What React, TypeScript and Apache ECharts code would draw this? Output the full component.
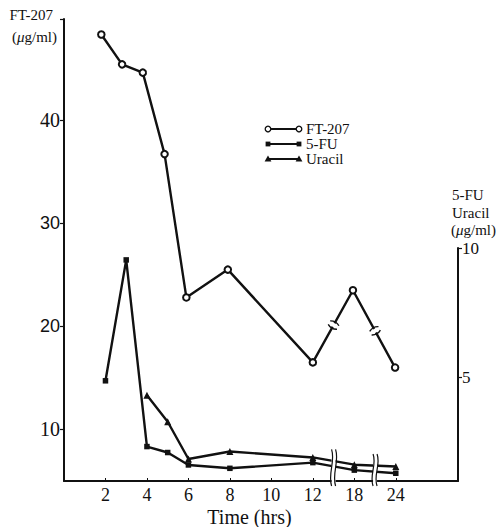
import React, { useEffect, useRef } from "react";
import * as echarts from "echarts";

// ---- data ----
const seriesNames = ["FT-207", "5-FU", "Uracil"];
const timeTicks = [2, 4, 6, 8, 10, 12, 18, 24];
const axisBreaks = [
  [12, 18],
  [18, 24],
];
const ftTimes = [1.8, 2.8, 3.8, 4.85, 5.9, 7.9, 12, 17.8, 23.9];
const ftValues = [48.3, 45.4, 44.6, 36.7, 22.8, 25.5, 16.5, 23.5, 16.0];
const fuTimes = [2, 3, 4, 5, 6, 8, 12, 18, 24];
const fuValues = [4.87, 9.54, 2.33, 2.1, 1.62, 1.49, 1.71, 1.42, 1.3];
const uracilTimes = [4, 5, 6, 8, 12, 18, 24];
const uracilValues = [4.31, 3.29, 1.85, 2.14, 1.91, 1.63, 1.56];
const leftTicks = [10, 20, 30, 40];
const leftRange = [5, 49.8];
const rightTicks = [5, 10];
const rightRange = [1, 10];
const xRange = [0, 9.5];

// broken time axis: 2 h per step up to 12 h, then 6 h per step
function toAxis(t: number) {
  return t <= 12 ? t / 2 : 6 + (t - 12) / 6;
}

const SERIF_NAME = "Liberation Serif";
const SANS_NAME = "Liberation Sans";
const SERIF = "'Liberation Serif', serif";
const INK = "#111";

function pts(times: number[], vals: number[]) {
  return times.map((t, i) => [toAxis(t), vals[i]]);
}
function interp(p: number[][], x: number) {
  for (let i = 0; i < p.length - 1; i++) {
    if (p[i][0] <= x && p[i + 1][0] >= x) {
      const f = (x - p[i][0]) / (p[i + 1][0] - p[i][0]);
      return p[i][1] + f * (p[i + 1][1] - p[i][1]);
    }
  }
  return p[p.length - 1][1];
}
function segmentAt(p: number[][], x: number) {
  for (let i = 0; i < p.length - 1; i++) {
    if (p[i][0] < x && p[i + 1][0] > x) return [p[i][0], p[i][1], p[i + 1][0], p[i + 1][1], x];
  }
  return null;
}

export default function App() {
  const ref = useRef<HTMLDivElement>(null);
  useEffect(() => {
    const chart = echarts.init(ref.current!, null, { renderer: "svg" });
    const ftPts = pts(ftTimes, ftValues);
    const fuPts = pts(fuTimes, fuValues);
    const urPts = pts(uracilTimes, uracilValues);
    const breakPos = axisBreaks.map(([a, b]) => (toAxis(a) + toAxis(b)) / 2);
    const ftBreaks = breakPos.map((bp) => segmentAt(ftPts, bp)).filter(Boolean);
    const lowBreaks = breakPos.map((bp) => [bp, Math.max(interp(fuPts, bp), interp(urPts, bp)) + 0.45]);
    const tickPos = timeTicks.map(toAxis);

    const legendY = [129, 144, 159];
    const legendEls: any[] = [];
    seriesNames.forEach((name, i) => {
      const y = legendY[i];
      const xs = [268, 299];
      legendEls.push({ type: "line", shape: { x1: xs[0], y1: y, x2: xs[1], y2: y }, style: { stroke: INK, lineWidth: 2 } });
      xs.forEach((cx) => {
        if (i === 0)
          legendEls.push({ type: "circle", shape: { cx, cy: y, r: 2.8 }, style: { fill: "#fff", stroke: INK, lineWidth: 1.3 }, z: 10 });
        else if (i === 1)
          legendEls.push({ type: "rect", shape: { x: cx - 2.4, y: y - 2.4, width: 4.8, height: 4.8 }, style: { fill: INK }, z: 10 });
        else
          legendEls.push({ type: "polygon", shape: { points: [[cx, y - 3.4], [cx - 3.4, y + 2.6], [cx + 3.4, y + 2.6]] }, style: { fill: INK }, z: 10 });
      });
      legendEls.push({
        type: "text",
        x: 306,
        y,
        style: { text: name, font: `15px ${SERIF}`, lineHeight: 14, fill: INK, verticalAlign: "middle", align: "left" },
      });
    });

    const muRich = { i: { fontFamily: SERIF_NAME, fontSize: 15, fontStyle: "italic", fill: INK } };
    const titleEls: any[] = [
      { type: "text", x: 53, y: 15, style: { text: "FT-207", font: `15px ${SERIF}`, fill: INK, align: "right", verticalAlign: "middle" } },
      { type: "text", x: 57, y: 37, style: { text: "({i|μ}g/ml)", font: `15px ${SERIF}`, fill: INK, align: "right", verticalAlign: "middle", rich: muRich } },
      { type: "text", x: 452, y: 195, style: { text: "5-FU", font: `15px ${SERIF}`, fill: INK, align: "left", verticalAlign: "middle" } },
      { type: "text", x: 452, y: 212.5, style: { text: "Uracil", font: `15px ${SERIF}`, fill: INK, align: "left", verticalAlign: "middle" } },
      { type: "text", x: 451, y: 230, style: { text: "({i|μ}g/ml)", font: `15px ${SERIF}`, fill: INK, align: "left", verticalAlign: "middle", rich: muRich } },
      { type: "text", x: 249.5, y: 517, style: { text: "Time (hrs)", font: `20px ${SERIF}`, fill: INK, align: "center", verticalAlign: "middle" } },
    ];

    const option: any = {
      animation: false,
      backgroundColor: "#fff",
      textStyle: { fontFamily: SERIF_NAME },
      grid: [
        { left: 64, right: 43, top: 19, bottom: 46 },
        { left: 64, right: 43, top: 248, bottom: 46 },
      ],
      xAxis: [
        {
          type: "value",
          gridIndex: 0,
          min: xRange[0],
          max: xRange[1],
          axisLine: { show: true, onZero: false, lineStyle: { color: INK, width: 2 } },
          axisTick: { show: true, inside: true, length: 3, customValues: tickPos, lineStyle: { color: INK, width: 1 } },
          axisLabel: {
            customValues: tickPos,
            formatter: (v: number) => {
              const k = tickPos.findIndex((p) => Math.abs(p - v) < 1e-6);
              return k >= 0 ? String(timeTicks[k]) : "";
            },
            fontFamily: SERIF_NAME,
            fontSize: 18,
            color: INK,
            margin: 5,
          },
          splitLine: { show: false },
        },
        { type: "value", gridIndex: 1, min: xRange[0], max: xRange[1], show: false },
      ],
      yAxis: [
        {
          type: "value",
          gridIndex: 0,
          position: "left",
          min: leftRange[0],
          max: leftRange[1],
          axisLine: { show: true, onZero: false, lineStyle: { color: INK, width: 2 } },
          axisTick: { show: true, length: 4, customValues: [...leftTicks, leftRange[1]], lineStyle: { color: INK, width: 1.2 } },
          axisLabel: {
            customValues: leftTicks,
            margin: 4,
            fontFamily: SERIF_NAME,
            fontSize: 20,
            color: INK,
            formatter: (v: number) => (v === 20 || v === 30 ? `{s|${v}}` : `{r|${v}}`),
            rich: {
              s: { fontFamily: SANS_NAME, fontSize: 18, color: INK },
              r: { fontFamily: SERIF_NAME, fontSize: 20, color: INK },
            },
          },
          splitLine: { show: false },
        },
        {
          type: "value",
          gridIndex: 1,
          position: "right",
          min: rightRange[0],
          max: rightRange[1],
          axisLine: { show: true, onZero: false, lineStyle: { color: INK, width: 2 } },
          axisTick: { show: true, length: 4, customValues: rightTicks, lineStyle: { color: INK, width: 1.2 } },
          axisLabel: { customValues: rightTicks, margin: 4, fontFamily: SERIF_NAME, fontSize: 17, color: INK },
          splitLine: { show: false },
        },
      ],
      series: [
        {
          name: seriesNames[0],
          type: "line",
          xAxisIndex: 0,
          yAxisIndex: 0,
          data: ftPts,
          symbol: "emptyCircle",
          symbolSize: 6.5,
          showAllSymbol: true,
          lineStyle: { color: INK, width: 2.4 },
          itemStyle: { color: INK, borderWidth: 1.4 },
          z: 3,
        },
        {
          name: seriesNames[1],
          type: "line",
          xAxisIndex: 1,
          yAxisIndex: 1,
          data: fuPts,
          symbol: "rect",
          symbolSize: 5.5,
          lineStyle: { color: INK, width: 2.4 },
          itemStyle: { color: INK },
          z: 3,
        },
        {
          name: seriesNames[2],
          type: "line",
          xAxisIndex: 1,
          yAxisIndex: 1,
          data: urPts,
          symbol: "triangle",
          symbolSize: 7,
          lineStyle: { color: INK, width: 2.4 },
          itemStyle: { color: INK },
          z: 3,
        },
        {
          type: "custom",
          xAxisIndex: 0,
          yAxisIndex: 0,
          data: ftBreaks,
          clip: false,
          z: 8,
          silent: true,
          renderItem: (_p: any, api: any) => {
            const a = api.coord([api.value(0), api.value(1)]);
            const b = api.coord([api.value(2), api.value(3)]);
            const f = (api.value(4) - api.value(0)) / (api.value(2) - api.value(0));
            const mx = a[0] + f * (b[0] - a[0]);
            const my = a[1] + f * (b[1] - a[1]);
            const len = Math.hypot(b[0] - a[0], b[1] - a[1]);
            const dx = (b[0] - a[0]) / len;
            const dy = (b[1] - a[1]) / len;
            const nx = -dy;
            const ny = dx;
            const g = 2;
            const L = 5;
            const children: any[] = [
              {
                type: "polygon",
                shape: {
                  points: [
                    [mx - dx * g + nx * (L - 1.5), my - dy * g + ny * (L - 1.5)],
                    [mx + dx * g + nx * (L - 1.5), my + dy * g + ny * (L - 1.5)],
                    [mx + dx * g - nx * (L - 1.5), my + dy * g - ny * (L - 1.5)],
                    [mx - dx * g - nx * (L - 1.5), my - dy * g - ny * (L - 1.5)],
                  ],
                },
                style: { fill: "#fff" },
              },
            ];
            [-1, 1].forEach((s) => {
              const cx = mx + dx * g * s;
              const cy = my + dy * g * s;
              children.push({
                type: "bezierCurve",
                shape: {
                  x1: cx - nx * L,
                  y1: cy - ny * L,
                  x2: cx + nx * L,
                  y2: cy + ny * L,
                  cpx1: cx + dx * 3 * s,
                  cpy1: cy + dy * 3 * s,
                },
                style: { stroke: INK, lineWidth: 1.4, fill: null },
              });
            });
            return { type: "group", children };
          },
        },
        {
          type: "custom",
          xAxisIndex: 1,
          yAxisIndex: 1,
          data: lowBreaks,
          clip: false,
          z: 8,
          silent: true,
          renderItem: (_p: any, api: any) => {
            const t = api.coord([api.value(0), api.value(1)]);
            const b = api.coord([api.value(0), rightRange[0]]);
            const x = t[0];
            const y0 = t[1];
            const y1 = b[1] + 5;
            const h = y1 - y0;
            const children: any[] = [
              { type: "rect", shape: { x: x - 2, y: y0 + 2, width: 4, height: h - 4 }, style: { fill: "#fff" } },
            ];
            [-1, 1].forEach((s) => {
              const xx = x + s * 2;
              children.push({
                type: "bezierCurve",
                shape: {
                  x1: xx,
                  y1: y0,
                  x2: xx,
                  y2: y1,
                  cpx1: xx + 4,
                  cpy1: y0 + h / 3,
                  cpx2: xx - 4,
                  cpy2: y0 + (2 * h) / 3,
                },
                style: { stroke: INK, lineWidth: 1.2, fill: null },
              });
            });
            return { type: "group", children };
          },
        },
      ],
      graphic: [...legendEls, ...titleEls],
    };
    chart.setOption(option);
    return () => chart.dispose();
  }, []);
  return (
    <div
      ref={ref}
      style={{ position: "absolute", left: 0, top: 0, width: 501, height: 527, background: "#fff" }}
    />
  );
}
